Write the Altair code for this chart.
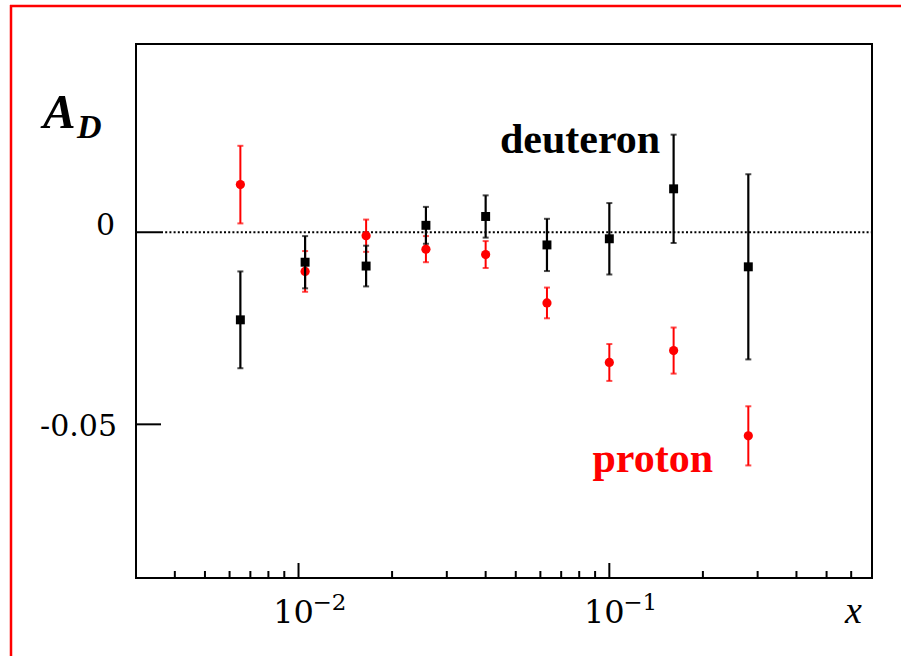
import altair as alt
import pandas as pd

# ---- data ----
x_vals = [0.0065, 0.0105, 0.0165, 0.0257, 0.040, 0.063, 0.100, 0.161, 0.280]
proton_y = [0.0124, -0.0102, -0.0009, -0.0044, -0.0058, -0.0184, -0.0339, -0.0308, -0.0530]
proton_err = [0.0101, 0.0053, 0.0042, 0.0034, 0.0035, 0.0040, 0.0048, 0.0060, 0.0077]
deut_y = [-0.0228, -0.0078, -0.0088, 0.0018, 0.0041, -0.0033, -0.0017, 0.0113, -0.0090]
deut_err = [0.0126, 0.0068, 0.0053, 0.0048, 0.0055, 0.0068, 0.0093, 0.0141, 0.0241]

x_major = [0.01, 0.1]
x_major_exp = ["\u22122", "\u22121"]
x_minor = [0.004, 0.005, 0.006, 0.007, 0.008, 0.009,
           0.02, 0.03, 0.04, 0.05, 0.06, 0.07, 0.08, 0.09,
           0.2, 0.3, 0.4, 0.5, 0.6]
y_ticks = [0, -0.05]
y_tick_text = ["0", "-0.05"]

X_DOMAIN = [0.003, 0.7]
Y_DOMAIN = [-0.09, 0.049]
W, H = 736, 534

RED = "#ff0000"
SERIF = "DejaVu Serif"
TSERIF = "Liberation Serif"


def X(f):
    return alt.X(f, scale=alt.Scale(type="log", domain=X_DOMAIN, nice=False), axis=None)


def Y(f):
    return alt.Y(f, scale=alt.Scale(domain=Y_DOMAIN, nice=False, zero=False), axis=None)


proton = pd.DataFrame({"x": x_vals, "y": proton_y, "e": proton_err})
deut = pd.DataFrame({"x": x_vals, "y": deut_y, "e": deut_err})


def series(df, color, shape, size, width):
    base = alt.Chart(df).transform_calculate(
        lo="datum.y - datum.e", hi="datum.y + datum.e"
    )
    bars = base.mark_rule(color=color, strokeWidth=width).encode(
        x=X("x:Q"), y=Y("lo:Q"), y2="hi:Q"
    )
    cap_lo = base.mark_tick(color=color, orient="horizontal", size=6, thickness=2).encode(
        x=X("x:Q"), y=Y("lo:Q")
    )
    cap_hi = base.mark_tick(color=color, orient="horizontal", size=6, thickness=2).encode(
        x=X("x:Q"), y=Y("hi:Q")
    )
    pts = base.mark_point(filled=True, opacity=1, shape=shape, size=size, color=color).encode(
        x=X("x:Q"), y=Y("y:Q")
    )
    return [bars, cap_lo, cap_hi, pts]


# zero dotted line
zero_df = pd.DataFrame({"y": [0]})
zero_line = alt.Chart(zero_df).mark_rule(color="black", strokeWidth=2, strokeDash=[2, 2.2]).encode(
    y=Y("y:Q"), x=alt.value(25), x2=alt.value(W)
)

# y ticks (inward)
yt_df = pd.DataFrame({"v": y_ticks, "t": y_tick_text})
y_tick_rules = alt.Chart(yt_df).mark_rule(color="black", strokeWidth=2).encode(
    y=Y("v:Q"), x=alt.value(0), x2=alt.value(25)
)
y_lab0 = alt.Chart(yt_df).transform_filter("datum.v == 0").mark_text(
    font=SERIF, fontSize=30, align="right", baseline="alphabetic", dy=3, color="black"
).encode(y=Y("v:Q"), x=alt.value(-21), text="t:N")
y_lab1 = alt.Chart(yt_df).transform_filter("datum.v != 0").mark_text(
    font=SERIF, fontSize=30, align="right", baseline="alphabetic", dy=12, color="black"
).encode(y=Y("v:Q"), x=alt.value(-19), text="t:N")

# x ticks (inward)
minor_df = pd.DataFrame({"v": x_minor})
major_df = pd.DataFrame({"v": x_major, "ex": x_major_exp})
minor_rules = alt.Chart(minor_df).mark_rule(color="black", strokeWidth=2).encode(
    x=X("v:Q"), y=alt.value(H), y2=alt.value(H - 7)
)
major_rules = alt.Chart(major_df).mark_rule(color="black", strokeWidth=2).encode(
    x=X("v:Q"), y=alt.value(H), y2=alt.value(H - 15)
)
x_lab_base = alt.Chart(major_df).mark_text(
    font=SERIF, fontSize=32, align="center", baseline="alphabetic", dx=-5, color="black",
    text="10"
).encode(x=X("v:Q"), y=alt.value(579))
x_lab_exp = alt.Chart(major_df).mark_text(
    font=SERIF, fontSize=23, align="left", baseline="alphabetic", dx=14, color="black"
).encode(x=X("v:Q"), y=alt.value(566), text="ex:N")

# annotations
one = pd.DataFrame({"k": [0]})


def label(txt, x, y, **kw):
    return alt.Chart(one).mark_text(align="left", baseline="alphabetic", text=txt, **kw).encode(
        x=alt.value(x), y=alt.value(y)
    )


lab_A = label("A", -93, 84, font=TSERIF, fontSize=49, fontWeight="bold", fontStyle="italic", color="black")
lab_D = label("D", -59, 94, font=TSERIF, fontSize=34, fontWeight="bold", fontStyle="italic", color="black")
lab_deut = label("deuteron", 364, 108.5, font=TSERIF, fontSize=42, fontWeight="bold", color="black")
lab_prot = label("proton", 456.5, 428, font=TSERIF, fontSize=42, fontWeight="bold", color=RED)
lab_x = label("x", 709, 579, font=TSERIF, fontSize=38, fontStyle="italic", color="black")

# outer red frame (decoration)
frame_top = alt.Chart(one).mark_rule(color=RED, strokeWidth=2.5).encode(
    x=alt.value(-126), x2=alt.value(W + 40), y=alt.value(-38)
)
frame_left = alt.Chart(one).mark_rule(color=RED, strokeWidth=2.5).encode(
    x=alt.value(-125), y=alt.value(-39), y2=alt.value(H + 90)
)

layers = [zero_line, y_tick_rules, minor_rules, major_rules]
layers += series(proton, RED, "circle", 85, 2)
layers += series(deut, "black", "square", 80, 2.2)
layers += [y_lab0, y_lab1, x_lab_base, x_lab_exp, lab_A, lab_D, lab_deut, lab_prot, lab_x,
           frame_top, frame_left]

chart = alt.layer(*layers).properties(
    width=W, height=H,
    padding={"left": 136, "top": 44, "right": 29, "bottom": 78},
    autosize=alt.AutoSizeParams(type="none"),
    background="white",
).configure_view(stroke="black", strokeWidth=2)

chart.save("out.html", embed_options={"renderer": "svg", "actions": False})
